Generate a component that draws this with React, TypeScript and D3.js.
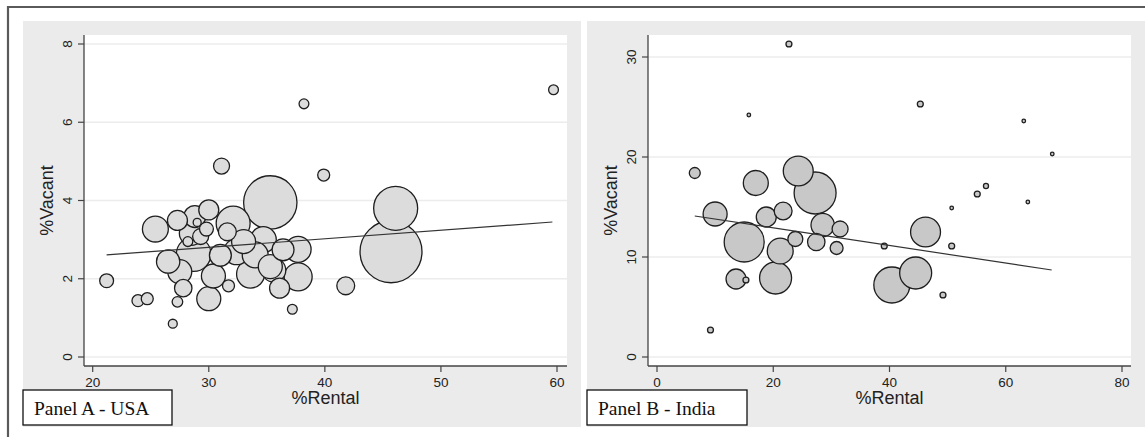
import * as d3 from "d3";

// Panel A - USA
const usaRental = [25.4, 27.3, 28.8, 30.0, 29.0, 28.5, 29.8, 29.3, 28.2, 28.7, 26.5, 27.5, 27.8, 27.3, 23.9, 24.7, 26.9, 30.0, 30.4, 31.7, 31.6, 32.4, 33.6, 32.1, 35.3, 34.7, 34.0, 31.1, 35.6, 36.1, 39.9, 46.1, 45.7, 37.7, 37.7, 37.2, 41.8, 36.4, 35.3, 21.2, 38.2, 59.7, 31.0, 33.0];
const usaVacant = [3.27, 3.49, 3.59, 3.76, 3.44, 3.16, 3.27, 3.08, 2.95, 2.63, 2.44, 2.18, 1.76, 1.41, 1.44, 1.49, 0.85, 1.49, 2.07, 1.82, 3.2, 2.69, 2.12, 3.42, 3.95, 3.0, 2.61, 4.88, 2.22, 1.76, 4.65, 3.8, 2.69, 2.75, 2.05, 1.22, 1.82, 2.74, 2.31, 1.95, 6.47, 6.83, 2.6, 2.95];
const usaWeight = [42, 25, 30, 25, 4, 36, 12, 16, 6, 75, 34, 36, 19, 7, 9, 9, 5, 36, 36, 9, 20, 42, 49, 72, 178, 42, 42, 16, 36, 25, 9, 121, 240, 42, 49, 6, 20, 30, 36, 12, 6, 6, 30, 36];
const usaFit = [[21.2, 2.61], [59.6, 3.45]];
const usaXTicks = [20, 30, 40, 50, 60];
const usaYTicks = [0, 2, 4, 6, 8];

// Panel B - India
const indRental = [6.5, 17.0, 24.3, 27.2, 10.0, 18.8, 21.7, 28.5, 31.5, 15.0, 23.8, 27.4, 30.9, 21.2, 13.6, 15.3, 20.4, 9.2, 45.3, 63.1, 68.0, 56.6, 55.1, 50.7, 63.8, 46.2, 39.1, 50.7, 44.5, 40.4, 49.2, 22.7, 15.8];
const indVacant = [18.4, 17.4, 18.6, 16.4, 14.3, 14.0, 14.6, 13.2, 12.8, 11.5, 11.8, 11.5, 10.9, 10.6, 7.8, 7.7, 7.9, 2.7, 25.3, 23.6, 20.3, 17.1, 16.3, 14.9, 15.5, 12.5, 11.1, 11.1, 8.4, 7.2, 6.2, 31.3, 24.2];
const indWeight = [7.5, 39, 56, 110, 36, 25, 20, 34, 16, 100, 14, 19, 10.5, 42, 25, 2.2, 64, 2.2, 2.2, 0.8, 0.8, 1.6, 2.2, 0.8, 0.8, 56, 2.2, 2.2, 64, 81, 2.2, 2.2, 0.8];
const indFit = [[6.5, 14.1], [67.9, 8.7]];
const indXTicks = [0, 20, 40, 60, 80];
const indYTicks = [0, 10, 20, 30];

const SANS = "'Liberation Sans', Arial, sans-serif";
const SERIF = "'Liberation Serif', 'Times New Roman', serif";

type PanelProps = {
  left: number;
  xs: number[];
  ys: number[];
  ws: number[];
  fit: number[][];
  xTicks: number[];
  yTicks: number[];
  xDomain: [number, number];
  yDomain: [number, number];
  xRange: [number, number];
  yRange: [number, number];
  fill: string;
  label: string;
  labelW: number;
};

function Panel(p: PanelProps) {
  const x = d3.scaleLinear().domain(p.xDomain).range(p.xRange);
  const y = d3.scaleLinear().domain(p.yDomain).range(p.yRange);
  const r = d3.scaleSqrt().domain([0, 100]).range([0, 20]);
  const plotL = p.left + 61;
  const plotR = p.left + 544;
  const plotT = 35;
  const axisY = 366;

  const pts = p.xs
    .map((v, i) => ({ x: v, y: p.ys[i], w: p.ws[i] }))
    .sort((a, b) => b.w - a.w);
  const line = d3.line<number[]>().x(d => x(d[0])).y(d => y(d[1]));

  return (
    <g>
      <rect x={p.left} y={21} width={558} height={406} fill="#ebebeb" />
      <rect x={plotL} y={plotT} width={plotR - plotL} height={axisY - plotT} fill="#fff" />
      {p.yTicks.map(t => (
        <line key={"g" + t} x1={plotL} x2={plotR} y1={y(t)} y2={y(t)} stroke="#ececec" strokeWidth={1.5} />
      ))}
      {pts.map((d, i) => (
        <circle key={i} cx={x(d.x)} cy={y(d.y)} r={r(d.w)} fill={p.fill} stroke="#1e1e1e" strokeWidth={1.3} />
      ))}
      <path d={line(p.fit) || ""} fill="none" stroke="#333" strokeWidth={1.2} />
      <line x1={plotL} x2={plotL} y1={plotT} y2={axisY} stroke="#444" strokeWidth={1.3} />
      <line x1={plotL} x2={plotR} y1={axisY} y2={axisY} stroke="#444" strokeWidth={1.3} />
      {p.yTicks.map(t => (
        <g key={"y" + t}>
          <line x1={plotL - 6} x2={plotL} y1={y(t)} y2={y(t)} stroke="#444" strokeWidth={1.2} />
          <text
            transform={`translate(${plotL - 12},${y(t)}) rotate(-90)`}
            textAnchor="middle"
            fontFamily={SANS}
            fontSize={13.5}
            fill="#222"
          >
            {t}
          </text>
        </g>
      ))}
      {p.xTicks.map(t => (
        <g key={"x" + t}>
          <line x1={x(t)} x2={x(t)} y1={axisY} y2={axisY + 6} stroke="#444" strokeWidth={1.2} />
          <text x={x(t)} y={axisY + 21} textAnchor="middle" fontFamily={SANS} fontSize={13.5} fill="#222">
            {t}
          </text>
        </g>
      ))}
      <text
        transform={`translate(${p.left + 30},${(plotT + axisY) / 2}) rotate(-90)`}
        textAnchor="middle"
        fontFamily={SANS}
        fontSize={18}
        fill="#222"
      >
        %Vacant
      </text>
      <text x={(plotL + plotR) / 2} y={404} textAnchor="middle" fontFamily={SANS} fontSize={18} fill="#222">
        %Rental
      </text>
      <rect x={p.left} y={390} width={p.labelW} height={35} fill="#fff" stroke="#111" strokeWidth={1.3} />
      <text x={p.left + 11} y={415} fontFamily={SERIF} fontSize={19.5} fill="#111">
        {p.label}
      </text>
    </g>
  );
}

export default function App() {
  return (
    <div style={{ position: "absolute", left: 0, top: 0 }}>
      <svg width={1145} height={437} style={{ display: "block", background: "#fff" }}>
        <Panel
          left={23}
          xs={usaRental}
          ys={usaVacant}
          ws={usaWeight}
          fit={usaFit}
          xTicks={usaXTicks}
          yTicks={usaYTicks}
          xDomain={[20, 60]}
          yDomain={[0, 8]}
          xRange={[92.7, 557]}
          yRange={[357, 44]}
          fill="#dcdcdc"
          label="Panel A - USA"
          labelW={149}
        />
        <Panel
          left={587}
          xs={indRental}
          ys={indVacant}
          ws={indWeight}
          fit={indFit}
          xTicks={indXTicks}
          yTicks={indYTicks}
          xDomain={[0, 80]}
          yDomain={[0, 30]}
          xRange={[657, 1122]}
          yRange={[357, 57]}
          fill="#c8c8c8"
          label="Panel B - India"
          labelW={160}
        />
        <path d="M8,437 V7 H1145" fill="none" stroke="#5a5a5a" strokeWidth={2.2} />
      </svg>
    </div>
  );
}
